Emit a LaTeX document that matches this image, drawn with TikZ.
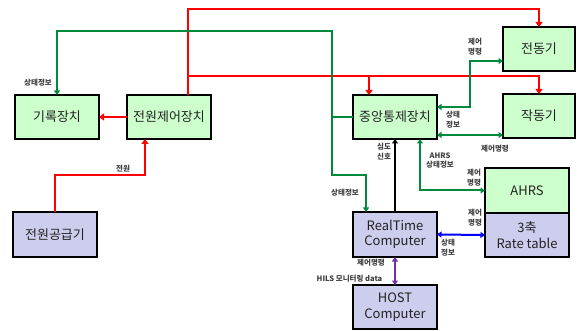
\documentclass[tikz,border=0pt]{standalone}
\usepackage{fontspec}
\setmainfont{Noto Sans CJK KR}
\usetikzlibrary{arrows.meta}
\definecolor{boxgreen}{HTML}{CCFFCC}
\definecolor{boxlav}{HTML}{CDCDEE}
\definecolor{lred}{HTML}{FF0000}
\definecolor{lgreen}{HTML}{008A3E}
\definecolor{lblue}{HTML}{0000FF}
\definecolor{lpurple}{HTML}{7030A0}
\definecolor{txt}{HTML}{222222}
\tikzset{
  gtip/.tip={Triangle[length=4.5pt,width=6pt]},
  rtip/.tip={Triangle[length=5pt,width=7pt]},
  box/.style={draw=black, line width=1.8pt, minimum width=84pt, minimum height=44pt,
    inner sep=0pt, outer sep=0pt, font=\fontsize{13}{15.5}\selectfont, text=txt, align=center},
  gbox/.style={box, fill=boxgreen},
  lbox/.style={box, fill=boxlav},
  pw/.style={draw=lred, line width=2.8pt, -rtip},
  sig/.style={draw=lgreen, line width=2pt},
  lab/.style={font=\fontsize{7.5}{9.8}\selectfont\bfseries, text=black!75, align=center, inner sep=0pt}
}
\begin{document}
\begin{tikzpicture}[x=1pt,y=-1pt]
\useasboundingbox (0,0) rectangle (581,331);
% boxes
\node[gbox] (rec) at (57,117) {기록장치};
\node[gbox] (pcu) at (169,117) {전원제어장치};
\node[lbox, minimum height=45pt] (psu) at (55,234.5) {전원공급기};
\node[gbox] (ccu) at (395,117) {중앙통제장치};
\node[gbox, minimum width=72pt] (motor) at (539,49) {전동기};
\node[gbox, minimum width=72pt] (act) at (539,116) {작동기};
\node[gbox, minimum height=45pt] (ahrs) at (527,190.5) {AHRS};
\node[lbox] (rate) at (527,235) {3축\\Rate table};
\node[lbox, minimum height=45pt] (rtc) at (395,234.5) {RealTime\\Computer};
\node[lbox] (host) at (395,307) {HOST\\Computer};
% coordinates
\coordinate (p1) at (145,175);
\coordinate (r1) at (188,9);
\coordinate (r2) at (188,76);
\coordinate (r3) at (369,76);
\coordinate (g1) at (332,31);
\coordinate (g2) at (366,175);
\coordinate (g3) at (470,61);
\coordinate (g5) at (420,191);
% red power lines
\draw[pw] (psu.north) |- (p1) -- (p1 |- pcu.south);
\draw[pw] (pcu.west) -- (rec.east);
\draw[pw] (r1 |- pcu.north) -- (r1) -| (motor.north);
\draw[pw] (r2) -| (act.north);
\draw[pw] (r3) -- (r3 |- ccu.north);
% green lines
\draw[sig, -gtip] (ccu.west) -| (g1) -| (rec.north);
\draw[sig, -gtip] (g1 |- ccu.west) |- (g2) -- (g2 |- rtc.north);
\draw[sig, gtip-gtip] ([yshift=10pt]ccu.east) -| (g3) -- (g3 -| motor.west);
\draw[sig, gtip-gtip] ([yshift=-18pt]ccu.east) -- ([yshift=-18pt]ccu.east -| act.west);
\draw[sig, gtip-gtip] (ahrs.west) -| (g5 |- ccu.south);
% black
\draw[line width=2pt, -gtip] (rtc.north) -- (rtc.north |- ccu.south);
% blue
\draw[draw=lblue, line width=2pt, gtip-gtip] (rtc.east) -- (rate.west);
% purple
\draw[draw=lpurple, line width=2pt, gtip-gtip] (rtc.south) -- (host.north);
% labels
\node[lab] (l1) at (38,83) {상태정보};
\node[lab] (l2) at (123,169) {전원};
\node[lab] (l3) at (475,47) {제어\\명령};
\node[lab] (l4) at (453,120) {상태\\정보};
\node[lab] (l5) at (495,149) {제어명령};
\node[lab] (l6) at (384,152) {심도\\신호};
\node[lab] (l7) at (440,160.5) {AHRS\\상태정보};
\node[lab] (l8) at (345,193) {상태정보};
\node[lab] (l9) at (474,178) {제어\\명령};
\node[lab] (l10) at (475,218) {제어\\명령};
\node[lab] (l11) at (448,248) {상태\\정보};
\node[lab] (l12) at (371,263) {제어명령};
\node[lab] (l13) at (349.5,279) {HILS 모니터링 data};
\end{tikzpicture}
\end{document}
